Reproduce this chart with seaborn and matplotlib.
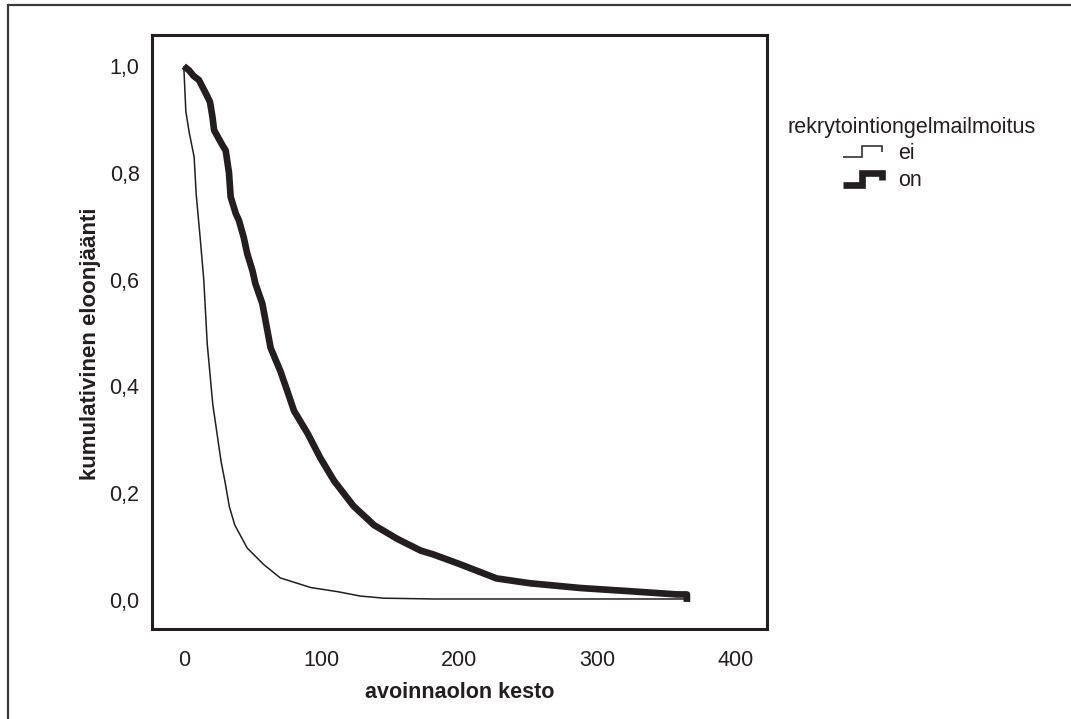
import matplotlib
matplotlib.use('Agg')
import matplotlib.pyplot as plt
from matplotlib.lines import Line2D
from matplotlib.legend_handler import HandlerBase
import pandas as pd
import seaborn as sns

sns.set_style("white")
plt.rcParams['font.family'] = ['Liberation Sans', 'DejaVu Sans']

# Kaplan-Meier curves
ei_time = [0, 1.5, 4, 7.5, 9, 12, 14.5, 17, 21, 27, 30, 33, 37, 46, 58, 70,
           92, 112, 128, 145, 181, 365]
ei_surv = [1.0, 0.915, 0.875, 0.83, 0.76, 0.675, 0.60, 0.48, 0.367, 0.26, 0.22,
           0.175, 0.14, 0.097, 0.066, 0.041, 0.023, 0.015, 0.007, 0.003, 0.0015, 0.0015]

on_time = [0, 3.9, 7, 11, 16, 19, 20.8, 22, 28, 30.4, 32.8, 34, 37.7, 40, 43.5,
           46, 49.8, 52, 57, 63, 70, 75, 80, 90, 99, 109, 123, 138, 155, 172,
           181, 200, 210, 227, 251, 288, 324, 358, 365, 365]
on_surv = [1.0, 0.992, 0.982, 0.974, 0.949, 0.933, 0.905, 0.88, 0.852, 0.842,
           0.80, 0.755, 0.724, 0.711, 0.679, 0.649, 0.617, 0.592, 0.555, 0.472,
           0.429, 0.392, 0.354, 0.311, 0.266, 0.223, 0.176, 0.14, 0.114, 0.092,
           0.085, 0.067, 0.057, 0.040, 0.031, 0.022, 0.016, 0.010, 0.010, -0.004]

groups = ['ei', 'on']
x_ticks = [0, 100, 200, 300, 400]
x_tick_labels = ['0', '100', '200', '300', '400']
y_ticks = [0.0, 0.2, 0.4, 0.6, 0.8, 1.0]
y_tick_labels = ['0,0', '0,2', '0,4', '0,6', '0,8', '1,0']

df = pd.concat([
    pd.DataFrame({'aika': ei_time, 'S': ei_surv, 'ryhma': 'ei'}),
    pd.DataFrame({'aika': on_time, 'S': on_surv, 'ryhma': 'on'}),
], ignore_index=True)

ink = '#231f20'
widths = {'ei': 1.1, 'on': 4.8}


class StepHandler(HandlerBase):
    # little step-shaped legend key like the original
    def create_artists(self, legend, orig_handle, xdescent, ydescent,
                       width, height, fontsize, trans):
        x0, y0 = -xdescent, -ydescent
        xs = [x0, x0 + 0.5 * width, x0 + 0.5 * width, x0 + width, x0 + width]
        ys = [y0, y0, y0 + height, y0 + height, y0 + 0.4 * height]
        ln = Line2D(xs, ys, color=orig_handle.get_color(),
                    lw=orig_handle.get_linewidth(),
                    solid_joinstyle='miter', solid_capstyle='butt')
        ln.set_transform(trans)
        return [ln]


fig = plt.figure(figsize=(10.71, 7.19), dpi=100)
ax = fig.add_axes([0.142, 0.125, 0.574, 0.826])

for g in groups:
    sns.lineplot(data=df[df['ryhma'] == g], x='aika', y='S', ax=ax,
                 color=ink, linewidth=widths[g], estimator=None, sort=False,
                 solid_joinstyle='round', solid_capstyle='butt')

ax.set_xlim(-23, 423)
ax.set_ylim(-0.055, 1.058)
ax.set_xticks(x_ticks)
ax.set_xticklabels(x_tick_labels)
ax.set_yticks(y_ticks)
ax.set_yticklabels(y_tick_labels)
for lab in ax.get_xticklabels() + ax.get_yticklabels():
    lab.set_fontsize(15.5)
    lab.set_color(ink)
ax.tick_params(direction='out', length=7, width=1.2, color=ink, pad=2)
ax.tick_params(axis='x', pad=8)
for sp in ax.spines.values():
    sp.set_linewidth(2.2)
    sp.set_color(ink)

ax.set_xlabel('avoinnaolon kesto', fontsize=15.5, fontweight='bold', color=ink, labelpad=8)
ax.set_ylabel('kumulativinen eloonjäänti', fontsize=16, fontweight='bold', color=ink)
ax.yaxis.set_label_coords(-0.083, 0.48)

# legend
fig.text(787 / 1071, 1 - 133 / 719, 'rekrytointiongelmailmoitus', fontsize=15.5,
         color=ink, va='baseline', ha='left')
fig.legend(ax.lines[:2], groups, handler_map={Line2D: StepHandler()},
           loc='upper left', bbox_to_anchor=(843 / 1071, 1 - 143 / 719),
           frameon=False, fontsize=15.5, borderpad=0, borderaxespad=0,
           handlelength=1.8, handleheight=0.45, handletextpad=0.75,
           labelspacing=0.3, labelcolor=ink)

# outer frame (top and left edges only)
fig.add_artist(Line2D([8 / 1071, 1], [1 - 5 / 719, 1 - 5 / 719], transform=fig.transFigure,
                      color='#3a3a3a', lw=1.6))
fig.add_artist(Line2D([8 / 1071, 8 / 1071], [0, 1 - 5 / 719], transform=fig.transFigure,
                      color='#3a3a3a', lw=1.6))

fig.savefig('out.png', dpi=100)
